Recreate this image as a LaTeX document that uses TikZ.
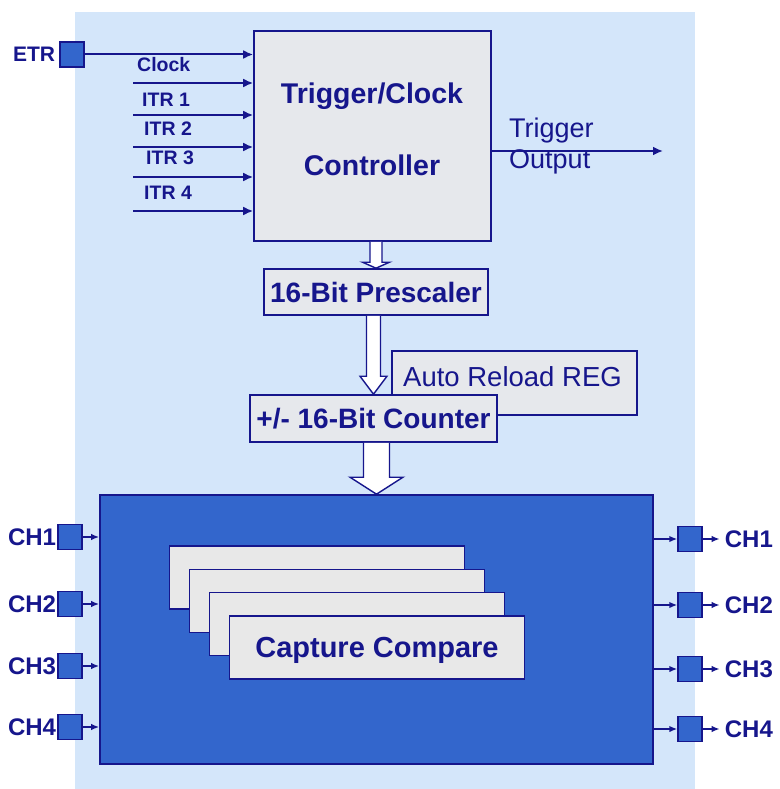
\documentclass[tikz,border=0pt]{standalone}
\usepackage{fontspec}
\setmainfont{Liberation Sans}
\usepackage{tikz}
\usetikzlibrary{
  arrows.meta,%
  calc,%
  positioning
}
\definecolor{navy}{RGB}{22,22,140}
\definecolor{panelblue}{RGB}{212,230,250}
\definecolor{boxgray}{RGB}{230,232,236}
\definecolor{cardgray}{RGB}{232,232,232}
\definecolor{timblue}{RGB}{51,102,204}
\tikzset{>={Latex[length=10pt,width=9pt]}}
\tikzset{
  blk/.style={draw=navy, line width=1.6pt, fill=boxgray, inner sep=0pt,
    text=navy, font=\fontsize{28}{34}\selectfont\bfseries},
  card/.style={blk, fill=cardgray, minimum width=295pt, minimum height=63pt,
    text depth=0pt, font=\fontsize{29}{34}\selectfont\bfseries},
  sig/.style={->, navy, line width=2pt},
  chsig/.style={-{Latex[length=8pt,width=6.5pt]}, navy, line width=2pt},
  portsq/.style={draw=navy, line width=1.4pt, fill=timblue, inner sep=0pt,
    minimum width=24pt, minimum height=25pt},
  inlbl/.style={text=navy, inner sep=0pt, anchor=west,
    font=\fontsize{19.5}{22}\selectfont\bfseries},
  chlbl/.style={text=navy, inner sep=0pt, font=\fontsize{24}{28}\selectfont\bfseries},
  thinlbl/.style={text=navy, inner sep=0pt, font=\fontsize{27}{31}\selectfont},
  hollow/.style={draw=navy, fill=white, line width=1.4pt, line join=miter},
}
% hollow block arrow: from, to, shaft half width, head half width, head length
\newcommand{\blockarrow}[5]{%
  \draw[hollow] ($(#1 -| #2)+(-#3,0)$) -- ($(#2)+(-#3,-#5)$) -- ($(#2)+(-#4,-#5)$)
    -- (#2) -- ($(#2)+(#4,-#5)$) -- ($(#2)+(#3,-#5)$) -- ($(#1 -| #2)+(#3,0)$);
}
\begin{document}
\begin{tikzpicture}[x=1pt, y=-1pt]
  \useasboundingbox (0,0) rectangle (779,789);
  \fill[panelblue] (75,12) rectangle (695,789);
  % controller and its inputs
  \node[blk, minimum width=237pt, minimum height=210pt] (ctrl) at (372.5,136) {};
  \node[text=navy, font=\fontsize{28.5}{72}\selectfont\bfseries, align=center, inner sep=0pt]
    (ctrltxt) at (372,129) {Trigger/Clock\\Controller};
  \node[portsq] (etr) at (72,54.5) {};
  \node[chlbl, font=\fontsize{21}{24}\selectfont\bfseries, left=4pt of etr] (etrlbl) {ETR};
  \draw[sig] (etr.east) -- (etr.east -| ctrl.west);
  \foreach \txt/\xt/\yt/\ya [count=\i] in
    {Clock/137/65/83, ITR 1/142/100/115, ITR 2/144/129/147, ITR 3/146/158/177, ITR 4/144/193/211}{
    \node[inlbl] (itrlbl\i) at (\xt,\yt) {\txt};
    \coordinate (itr\i) at (133,\ya);
    \draw[sig] (itr\i) -- (itr\i -| ctrl.west);
  }
  \coordinate (trigout) at (663,151);
  \draw[sig] (trigout -| ctrl.east) -- (trigout);
  \node[thinlbl, align=left, anchor=west] (triglbl) at (509,146) {Trigger\\Output};
  % prescaler, reload register and counter
  \node[blk, minimum width=224pt, minimum height=46pt] (presc) at (376,292) {16-Bit Prescaler};
  \node[blk, minimum width=245pt, minimum height=64pt] (reload) at (514.5,383) {};
  \node[thinlbl, font=\fontsize{27.5}{31}\selectfont, anchor=west] (reloadlbl) at (403,377) {Auto Reload REG};
  \node[blk, minimum width=247pt, minimum height=47pt] (cnt) at (373.5,418.5) {+/- 16-Bit Counter};
  % capture compare block
  \node[blk, fill=timblue, minimum width=553pt, minimum height=269pt] (capblk) at (376.5,629.5) {};
  \foreach \i in {0,...,2}
    \node[card] (card\i) at (317+20*\i, 577.5+23.33*\i) {};
  \node[card] (card3) at (377,647.5) {Capture Compare};
  \blockarrow{ctrl.south}{presc.north}{6}{13.5}{6}
  \blockarrow{presc.south}{cnt.north}{7}{13.5}{18}
  \blockarrow{cnt.south}{capblk.north}{13}{26.5}{17}
  % channels
  \foreach \n/\yl/\yr in {1/537/539, 2/604/605, 3/666/669, 4/727/729}{
    \node[portsq] (chin\n) at (70,\yl) {};
    \node[chlbl, left=1pt of chin\n] (chinlbl\n) {CH\n};
    \draw[chsig] (chin\n.east) -- (chin\n.east -| capblk.west);
    \node[portsq] (chout\n) at (690,\yr) {};
    \node[chlbl, right=22pt of chout\n] (choutlbl\n) {CH\n};
    \draw[chsig] (chout\n.west -| capblk.east) -- (chout\n.west);
    \draw[chsig, shorten >=5pt] (chout\n.east) -- (choutlbl\n.west);
  }
\end{tikzpicture}
\end{document}
